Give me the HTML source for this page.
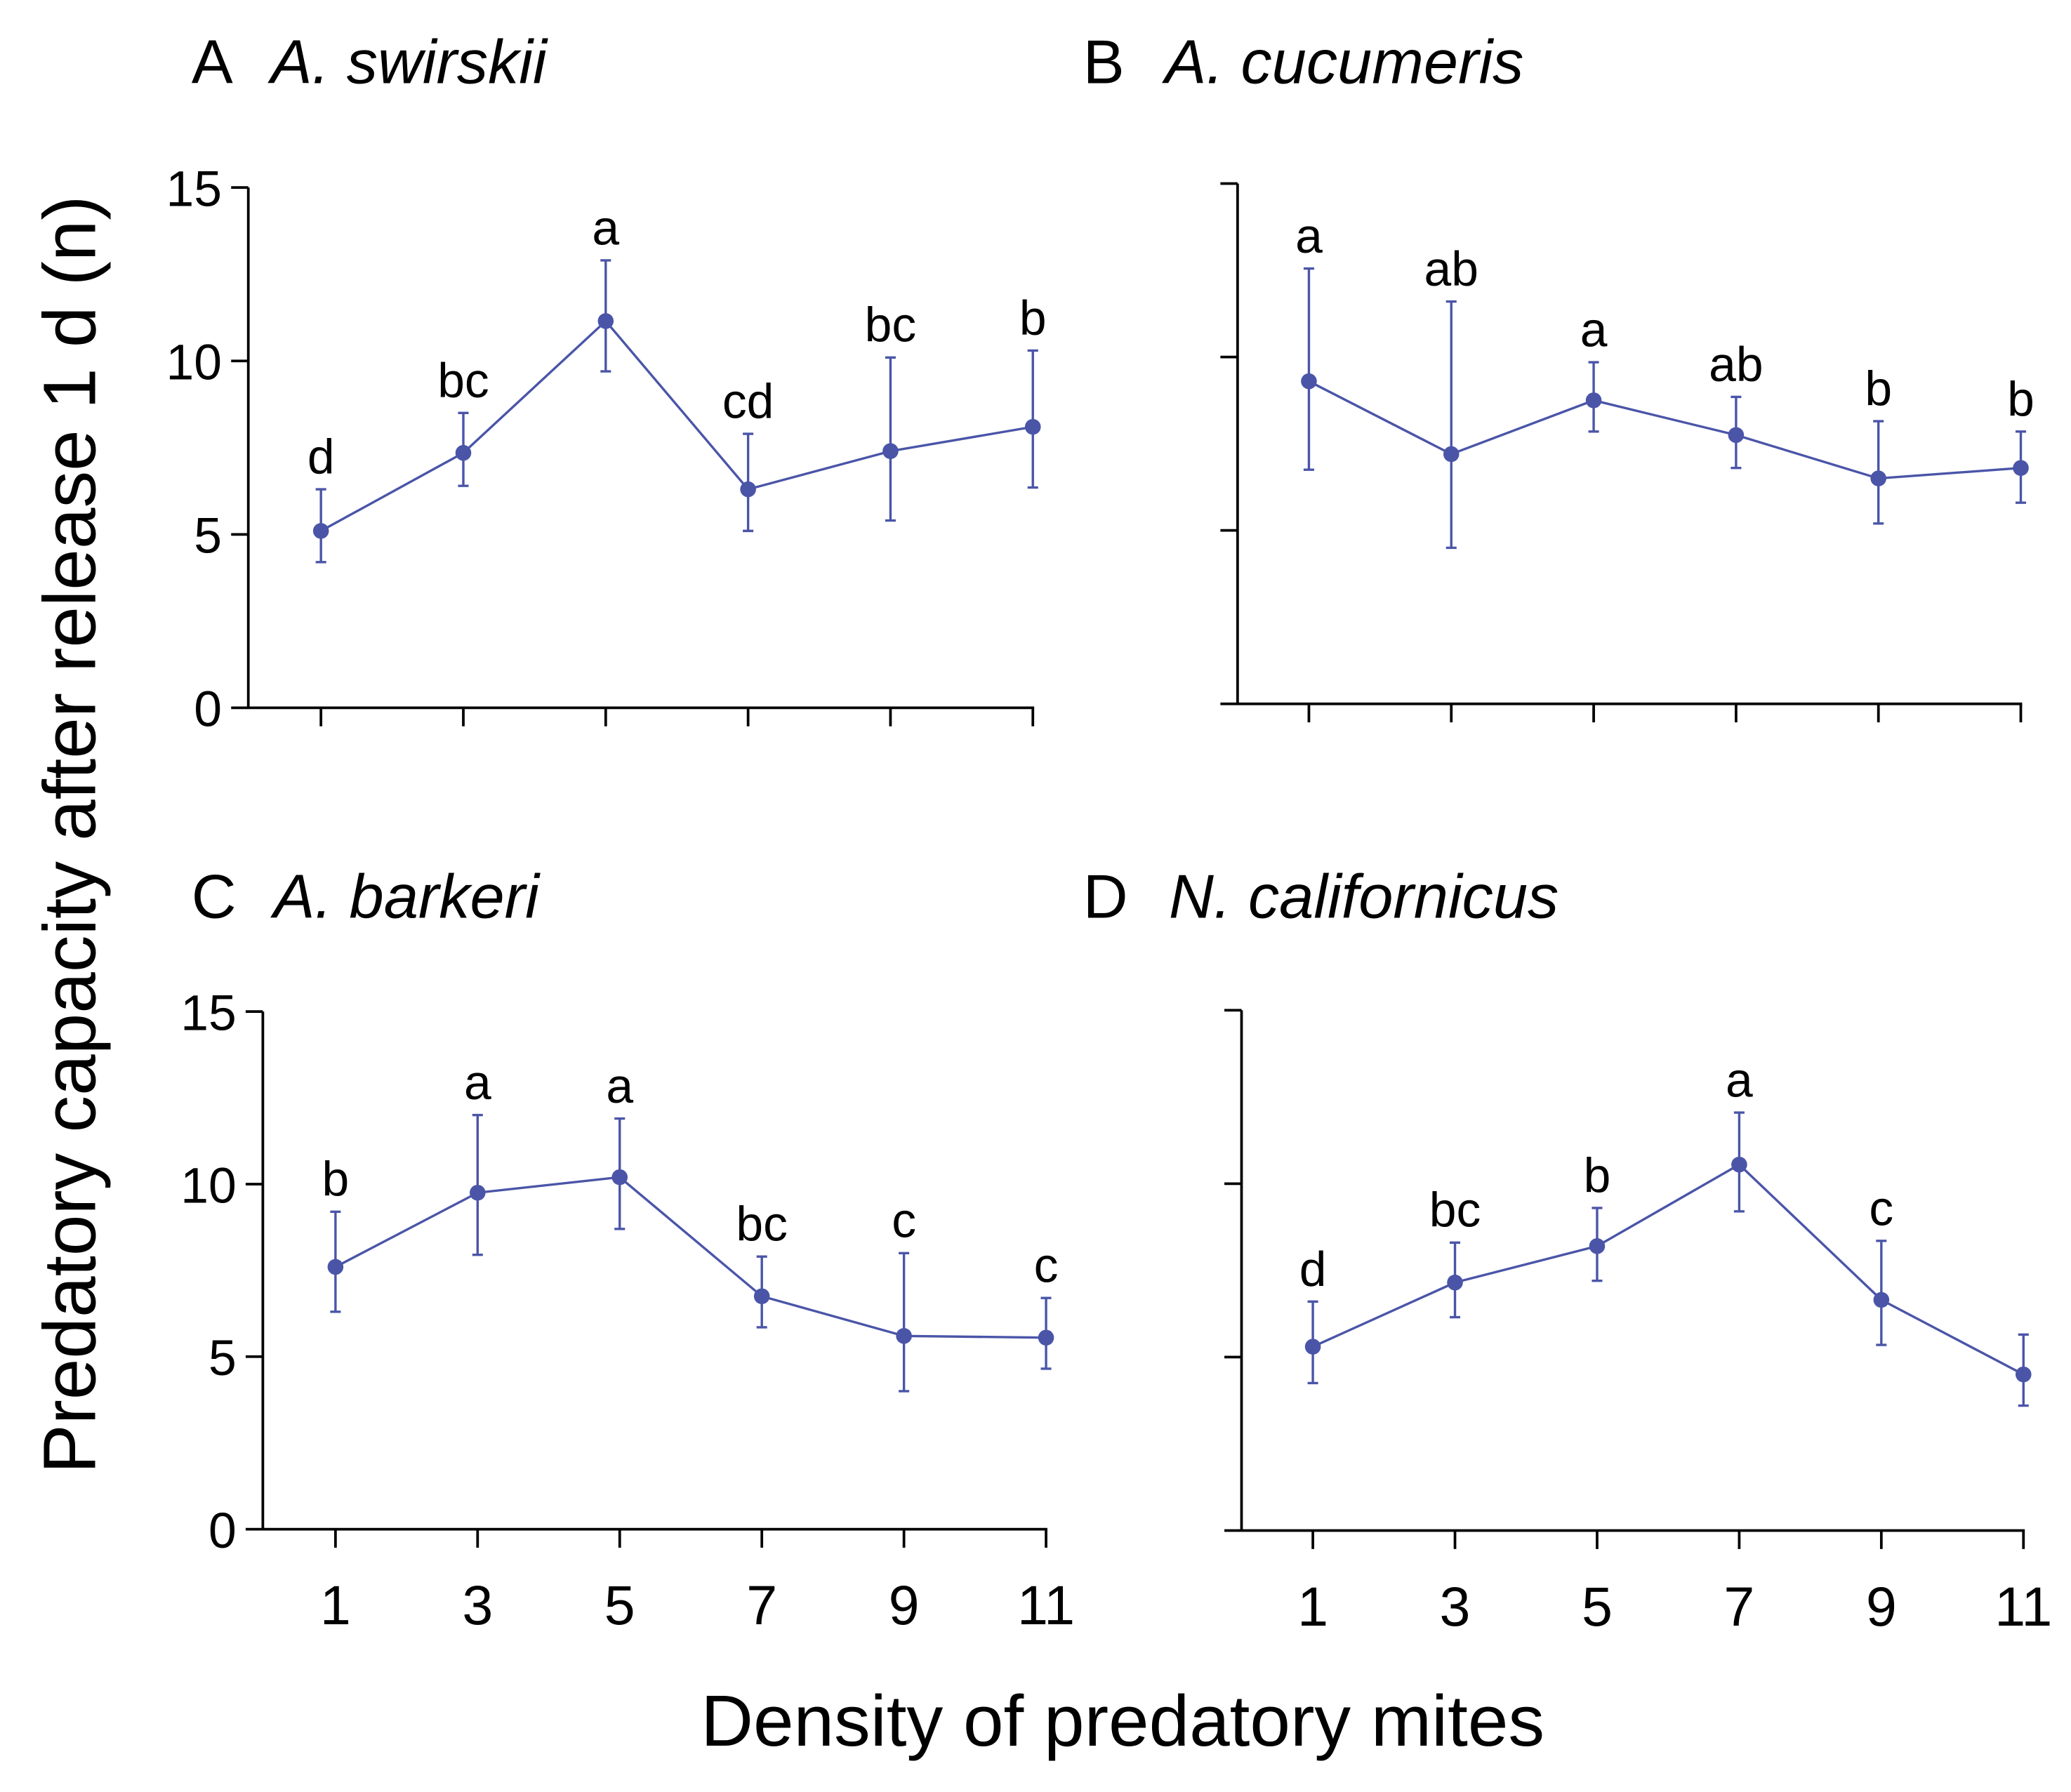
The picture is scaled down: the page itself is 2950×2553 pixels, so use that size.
<!DOCTYPE html>
<html><head><meta charset="utf-8"><style>
html,body{margin:0;padding:0;background:#fff;}
svg{display:block;}
text{font-family:"Liberation Sans",Arial,sans-serif;fill:#000;}
</style></head><body>
<svg id="chart" width="2950" height="2553" viewBox="0 0 1568 1357" preserveAspectRatio="none" xmlns="http://www.w3.org/2000/svg">
<text transform="translate(72,632) rotate(-90)" text-anchor="middle" font-size="56">Predatory capacity after release 1 d (n)</text>
<text x="850" y="1322" text-anchor="middle" font-size="55">Density of predatory mites</text>
</svg>
<script>
const densities = [1, 3, 5, 7, 9, 11];
const yTicks = [0, 5, 10, 15];
const meanA = [5.1, 7.35, 11.15, 6.3, 7.4, 8.1];
const upA = [6.3, 8.5, 12.9, 7.9, 10.1, 10.3];
const loA = [4.2, 6.4, 9.7, 5.1, 5.4, 6.35];
const letA = ["d","bc","a","cd","bc","b"];
const meanB = [9.3, 7.2, 8.75, 7.75, 6.5, 6.8];
const upB = [12.55, 11.6, 9.85, 8.85, 8.15, 7.85];
const loB = [6.75, 4.5, 7.85, 6.8, 5.2, 5.8];
const letB = ["a","ab","a","ab","b","b"];
const meanC = [7.6, 9.75, 10.2, 6.75, 5.6, 5.55];
const upC = [9.2, 12.0, 11.9, 7.9, 8.0, 6.7];
const loC = [6.3, 7.95, 8.7, 5.85, 4.0, 4.65];
const letC = ["b","a","a","bc","c","c"];
const meanD = [5.3, 7.15, 8.2, 10.55, 6.65, 4.5];
const upD = [6.6, 8.3, 9.3, 12.05, 8.35, 5.65];
const loD = [4.25, 6.15, 7.2, 9.2, 5.35, 3.6];
const letD = ["d","bc","b","a","c",""];

const NS = "http://www.w3.org/2000/svg";
const svg = document.getElementById("chart");
const COLOR = "#4a55a8";
function mk(tag, attrs, parent){
  const e = document.createElementNS(NS, tag);
  for (const k in attrs) e.setAttribute(k, attrs[k]);
  (parent||svg).appendChild(e);
  return e;
}
const panels = [
  {id:"a", letter:"A", species:"A. swirskii", lx:145, ly:63, sx:205, axisX:188, x1:243, x11:782, y0:536, y15:142, mean:meanA, up:upA, lo:loA, let:letA, ylab:true, xlab:false},
  {id:"b", letter:"B", species:"A. cucumeris", lx:820, ly:63, sx:882, axisX:937, x1:991, x11:1530, y0:533, y15:139, mean:meanB, up:upB, lo:loB, let:letB, ylab:false, xlab:false},
  {id:"c", letter:"C", species:"A. barkeri", lx:145, ly:695, sx:207, axisX:199, x1:254, x11:792, y0:1158, y15:766, mean:meanC, up:upC, lo:loC, let:letC, ylab:true, xlab:true},
  {id:"d", letter:"D", species:"N. californicus", lx:820, ly:695, sx:885, axisX:940, x1:994, x11:1532, y0:1159, y15:765, mean:meanD, up:upD, lo:loD, let:letD, ylab:false, xlab:true}
];
panels.forEach(p => {
  const g = mk("g", {});
  
  
  const xs = v => p.x1 + (v - 1) / 10 * (p.x11 - p.x1);
  const ys = v => p.y0 - v / 15 * (p.y0 - p.y15);
  const t1 = mk("text", {x:p.lx, y:p.ly, "font-size":47}, g);
  t1.textContent = p.letter;
  
  
  const t2 = mk("text", {x:p.sx, y:p.ly, "font-size":47, "font-style":"italic"}, g);
  t2.textContent = p.species;
  
  
  const ya = mk("line", {x1:p.axisX, x2:p.axisX, y1:ys(15), y2:p.y0, stroke:"#000", "stroke-width":2}, g);
  
  
  const xa = mk("line", {x1:p.axisX - 13, x2:xs(11)+1, y1:p.y0, y2:p.y0, stroke:"#000", "stroke-width":2}, g);
  
  
  yTicks.forEach(v => {
    if (v > 0) {
      const tk = mk("line", {x1:p.axisX - 13, x2:p.axisX, y1:ys(v), y2:ys(v), stroke:"#000", "stroke-width":2}, g);
      
      
    }
    if (p.ylab) {
      const tl = mk("text", {x:p.axisX - 20, y:ys(v) + 14, "font-size":38, "text-anchor":"end"}, g);
      tl.textContent = v;
      
      
    }
  });
  densities.forEach(d => {
    const tk = mk("line", {x1:xs(d), x2:xs(d), y1:p.y0, y2:p.y0 + 14, stroke:"#000", "stroke-width":2}, g);
    
    
    if (p.xlab) {
      const tl = mk("text", {x:xs(d), y:p.y0 + 72, "font-size":42, "text-anchor":"middle"}, g);
      tl.textContent = d;
      
      
    }
  });
  const pts = densities.map((d,i) => xs(d) + "," + ys(p.mean[i])).join(" ");
  const pl = mk("polyline", {points:pts, fill:"none", stroke:COLOR, "stroke-width":1.8}, g);
  
  
  densities.forEach((d,i) => {
    const x = xs(d);
    const eb = mk("path", {d:`M${x},${ys(p.up[i])}V${ys(p.lo[i])}M${x-4},${ys(p.up[i])}H${x+4}M${x-4},${ys(p.lo[i])}H${x+4}`, stroke:COLOR, "stroke-width":1.8, fill:"none"}, g);
    
    
    const c = mk("circle", {cx:x, cy:ys(p.mean[i]), r:6, fill:COLOR}, g);
    
    
    if (p.let[i]) {
      const lt = mk("text", {x:x, y:ys(p.up[i]) - 12, "font-size":37, "text-anchor":"middle"}, g);
      lt.textContent = p.let[i];
      
      
    }
  });
});
</script>
</body></html>
